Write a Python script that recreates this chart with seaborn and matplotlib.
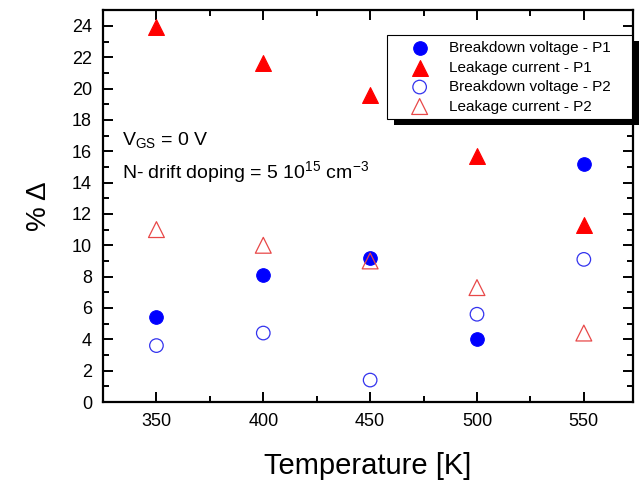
import pandas as pd
import matplotlib
matplotlib.use("Agg")
import matplotlib.pyplot as plt
import seaborn as sns
from matplotlib.patches import Rectangle
from matplotlib.ticker import MultipleLocator

temperature = [350, 400, 450, 500, 550]
breakdown_p1 = [5.4, 8.1, 9.2, 4.0, 15.2]
leakage_p1 = [23.9, 21.6, 19.6, 15.7, 11.3]
breakdown_p2 = [3.6, 4.4, 1.4, 5.6, 9.1]
leakage_p2 = [11.0, 10.0, 9.0, 7.3, 4.4]

sns.set_style("ticks")
plt.rcParams["font.family"] = ["Liberation Sans", "DejaVu Sans"]
plt.rcParams["mathtext.fontset"] = "custom"
plt.rcParams["mathtext.rm"] = "Liberation Sans"
plt.rcParams["mathtext.it"] = "Liberation Sans:italic"
for key in ["text.color", "axes.labelcolor", "xtick.color", "ytick.color"]:
    plt.rcParams[key] = "black"

df = pd.DataFrame({"T": temperature, "bp1": breakdown_p1, "lp1": leakage_p1,
                   "bp2": breakdown_p2, "lp2": leakage_p2})

fig = plt.figure(figsize=(6.41, 4.84), dpi=100)
ax = fig.add_axes([0.1607, 0.1694, 0.8268, 0.8096])

sns.scatterplot(data=df, x="T", y="bp1", ax=ax, marker="o", s=95, color="#0000ff",
                edgecolor="#0000ff", linewidth=0.8, label="Breakdown voltage - P1")
sns.scatterplot(data=df, x="T", y="lp1", ax=ax, marker="^", s=130, color="#ff0000",
                edgecolor="#ff0000", linewidth=0.8, label="Leakage current - P1")
sns.scatterplot(data=df, x="T", y="bp2", ax=ax, marker="o", s=95, facecolor="none",
                edgecolor="#3333ee", linewidth=0.9, label="Breakdown voltage - P2")
sns.scatterplot(data=df, x="T", y="lp2", ax=ax, marker="^", s=130, facecolor="none",
                edgecolor="#e84848", linewidth=0.9, label="Leakage current - P2")

ax.set_xlim(325, 573)
ax.set_ylim(0, 25)
ax.xaxis.set_major_locator(MultipleLocator(50))
ax.xaxis.set_minor_locator(MultipleLocator(25))
ax.yaxis.set_major_locator(MultipleLocator(2))
ax.yaxis.set_minor_locator(MultipleLocator(1))
ax.tick_params(which="both", direction="in", top=True, right=True, width=1.4, colors="black")
ax.tick_params(which="major", length=7, labelsize=13, pad=8)
ax.tick_params(which="minor", length=4)
for sp in ax.spines.values():
    sp.set_linewidth(1.6)
    sp.set_color("black")

ax.set_xlabel("Temperature [K]", fontsize=21, labelpad=16)
ax.set_ylabel("% Δ", fontsize=20, labelpad=14)

ax.text(0.036, 0.668, r"V$_{\mathrm{GS}}$ = 0 V", transform=ax.transAxes, fontsize=14,
        ha="left", va="center")
ax.text(0.036, 0.588, r"N- drift doping = 5 10$^{15}$ cm$^{-3}$", transform=ax.transAxes,
        fontsize=14, ha="left", va="center")

# legend box spans a fixed width, extra room ends up on the right
leg = ax.legend(loc="upper left", bbox_to_anchor=(0.536, 0.717, 0.462, 0.219),
                mode="expand", fontsize=11,
                frameon=True, fancybox=False, edgecolor="black", framealpha=1,
                handletextpad=0.2, borderpad=0.38, labelspacing=0.36, borderaxespad=0,
                handlelength=3.5)
leg.get_frame().set_linewidth(0.8)

fig.canvas.draw()
bb = leg.get_window_extent()
shadow = Rectangle((bb.x0 + 7, bb.y0 - 6), bb.width, bb.height, transform=None,
                   facecolor="black", edgecolor="none", zorder=4)
fig.patches.append(shadow)
leg.remove()
leg.set_zorder(5)
fig.add_artist(leg)

fig.savefig("out.png", dpi=100)
